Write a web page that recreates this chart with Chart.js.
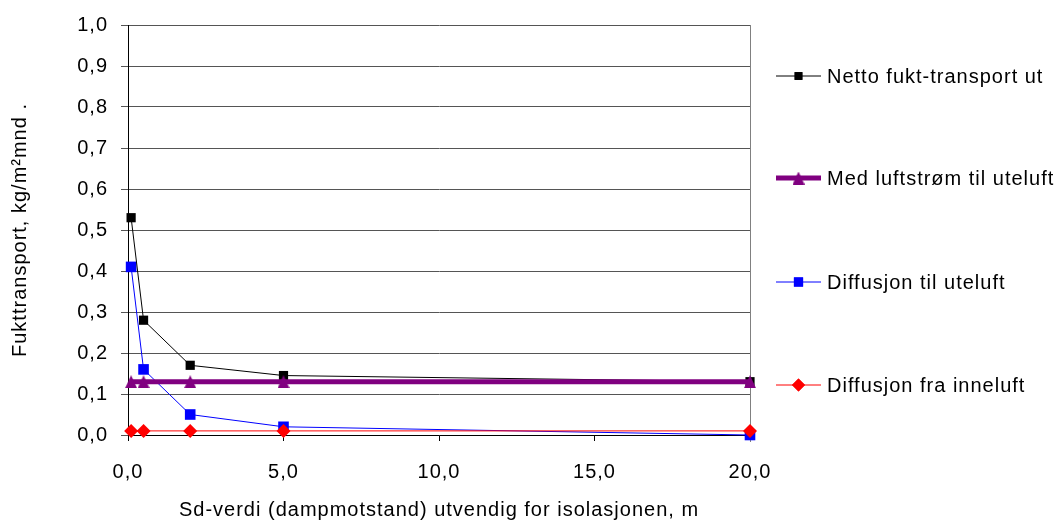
<!DOCTYPE html>
<html>
<head>
<meta charset="utf-8">
<script src="https://cdn.jsdelivr.net/npm/chart.js@4/dist/chart.umd.min.js"></script>
<style>
  html, body { margin: 0; padding: 0; background: #fff; }
  #wrap { width: 1061px; height: 522px; position: relative; }
</style>
</head>
<body>
<div id="wrap"><canvas id="c" width="1061" height="522"></canvas></div>
<script>
// Sd-value (vapour resistance) on the outer side of the insulation, m
const sdValues = [0.1, 0.5, 2, 5, 20];

// Moisture transport, kg/m²·month
const nettoUt = [0.53, 0.28, 0.17, 0.145, 0.13];
const luftstromUte = [0.13, 0.13, 0.13, 0.13, 0.13];
const diffusjonUte = [0.41, 0.16, 0.05, 0.02, 0.0];
const diffusjonInne = [0.01, 0.01, 0.01, 0.01, 0.01];

const seriesNames = [
  'Netto fukt-transport ut',
  'Med luftstrøm til uteluft',
  'Diffusjon til uteluft',
  'Diffusjon fra inneluft'
];

const xTitle = 'Sd-verdi (dampmotstand) utvendig for isolasjonen, m';
const yTitle = 'Fukttransport, kg/m²mnd .';

const FONT = 'Liberation Sans, Arial, sans-serif';
const FONT_SIZE = 20;
const LETTER_SPACING = '1px';

const toPoints = vals => sdValues.map((x, i) => ({ x: x, y: vals[i] }));
const comma = v => Number(v).toFixed(1).replace('.', ',');

// Triangle marker centred on its bounding box
function triangleMarker(w, h, color) {
  const c = document.createElement('canvas');
  c.width = w; c.height = h;
  const g = c.getContext('2d');
  g.fillStyle = color;
  g.beginPath();
  g.moveTo(w / 2, 0);
  g.lineTo(w, h);
  g.lineTo(0, h);
  g.closePath();
  g.fill();
  return c;
}
const purpleTriangle = triangleMarker(12, 13, '#800080');

const styles = [
  { color: '#000000', width: 1, point: 'rect', radius: 6.5, legendRadius: 5.5 },
  { color: '#800080', width: 5, point: purpleTriangle, radius: 7, legendRadius: 7 },
  { color: '#0000FF', width: 1, point: 'rect', radius: 7.5, legendRadius: 6.5 },
  { color: '#FF0000', width: 1, point: 'rectRot', radius: 7, legendRadius: 6.5 }
];
const seriesData = [nettoUt, luftstromUte, diffusjonUte, diffusjonInne];

const datasets = seriesData.map((vals, i) => ({
  label: seriesNames[i],
  data: toPoints(vals),
  borderColor: styles[i].color,
  backgroundColor: styles[i].color,
  borderWidth: styles[i].width,
  pointStyle: styles[i].point,
  pointRadius: styles[i].radius,
  pointBorderWidth: 0,
  pointBackgroundColor: styles[i].color,
  tension: 0,
  clip: false
}));
// draw order: red on top of blue, purple over the others
datasets[0].order = 3;
datasets[1].order = 2;
datasets[2].order = 4;
datasets[3].order = 1;

// Slightly wider text tracking for all labels on the canvas
const tracking = {
  id: 'tracking',
  beforeUpdate(chart) { chart.ctx.letterSpacing = LETTER_SPACING; },
  beforeDraw(chart) { chart.ctx.letterSpacing = LETTER_SPACING; }
};

// Right-hand legend: a short line with the marker in its middle, then the name
const sideLegend = {
  id: 'sideLegend',
  afterDraw(chart) {
    const ctx = chart.ctx;
    const rows = [76, 178, 282, 385];
    const x0 = 776, x1 = 821, tx = 827;
    ctx.save();
    styles.forEach((s, i) => {
      const y = rows[i];
      ctx.strokeStyle = s.color;
      ctx.lineWidth = s.width;
      ctx.beginPath();
      ctx.moveTo(x0, y);
      ctx.lineTo(x1, y);
      ctx.stroke();
      ctx.fillStyle = s.color;
      Chart.helpers.drawPoint(ctx, {
        pointStyle: s.point,
        radius: s.legendRadius,
        borderWidth: 0,
        rotation: 0
      }, (x0 + x1) / 2, y);
      ctx.fill();
      ctx.fillStyle = '#000';
      ctx.font = FONT_SIZE + 'px ' + FONT;
      ctx.letterSpacing = LETTER_SPACING;
      ctx.textBaseline = 'middle';
      ctx.textAlign = 'left';
      ctx.fillText(seriesNames[i], tx, y + 1);
    });
    ctx.restore();
  }
};

// Grey frame line on the right edge of the plot area
const rightEdge = {
  id: 'rightEdge',
  beforeDatasetsDraw(chart) {
    const { ctx, chartArea } = chart;
    ctx.save();
    ctx.strokeStyle = '#808080';
    ctx.lineWidth = 1;
    ctx.beginPath();
    ctx.moveTo(Math.round(chartArea.right) + 0.5, chartArea.top);
    ctx.lineTo(Math.round(chartArea.right) + 0.5, chartArea.bottom + 7);
    ctx.stroke();
    ctx.restore();
  }
};

new Chart(document.getElementById('c'), {
  type: 'line',
  data: { datasets: datasets },
  options: {
    responsive: false,
    animation: false,
    layout: { padding: { top: 22, right: 311, left: 0, bottom: 0 } },
    plugins: {
      legend: { display: false },
      tooltip: { enabled: false }
    },
    scales: {
      x: {
        type: 'linear',
        min: 0,
        max: 20,
        afterFit(scale) { scale.height = 87; },
        ticks: {
          stepSize: 5,
          padding: 19,
          color: '#000',
          font: { family: FONT, size: FONT_SIZE },
          callback: v => comma(v),
          maxRotation: 0
        },
        grid: {
          drawOnChartArea: false,
          drawTicks: true,
          tickLength: 6,
          color: '#000'
        },
        border: { display: true, color: '#000', width: 1 },
        title: {
          display: true,
          text: xTitle,
          color: '#000',
          font: { family: FONT, size: FONT_SIZE },
          padding: { top: 0, bottom: 0 }
        }
      },
      y: {
        type: 'linear',
        min: 0,
        max: 1,
        afterFit(scale) { scale.width = 128; },
        ticks: {
          stepSize: 0.1,
          padding: 13,
          color: '#000',
          font: { family: FONT, size: FONT_SIZE },
          callback: v => comma(v)
        },
        grid: {
          color: '#555',
          lineWidth: 1,
          drawTicks: true,
          tickLength: 7
        },
        border: { display: true, color: '#000', width: 1 },
        title: {
          display: true,
          text: yTitle,
          color: '#000',
          font: { family: FONT, size: FONT_SIZE },
          padding: { top: 8, bottom: 0 }
        }
      }
    }
  },
  plugins: [tracking, rightEdge, sideLegend]
});
</script>
</body>
</html>
